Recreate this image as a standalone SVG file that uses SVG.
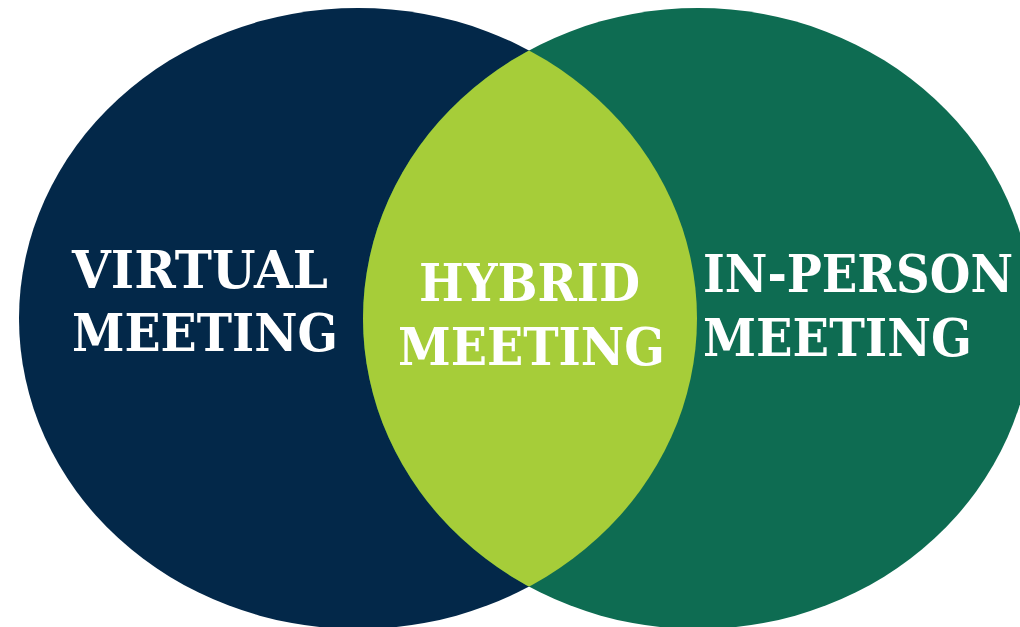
<svg xmlns="http://www.w3.org/2000/svg" width="1020" height="627" viewBox="0 0 1020 627">
<style>
.lbl{font-family:"DejaVu Serif","Liberation Serif",serif;font-weight:bold;font-size:52px;fill:#ffffff}
</style>
<defs>
<clipPath id="clipL"><ellipse cx="358" cy="318.5" rx="339" ry="310.5"/></clipPath>
</defs>
<rect width="1020" height="627" fill="#ffffff"/>
<g id="virtual">
<ellipse cx="358" cy="318.5" rx="339" ry="310.5" fill="#032849"/>
</g>
<g id="in-person">
<ellipse cx="698" cy="318.5" rx="335" ry="310.5" fill="#0e6c52"/>
</g>
<g id="hybrid">
<ellipse cx="698" cy="318.5" rx="335" ry="310.5" fill="#a6cd39" clip-path="url(#clipL)"/>
</g>
<g id="labels">
<text class="lbl" x="72" y="288" textLength="256" lengthAdjust="spacingAndGlyphs">VIRTUAL</text>
<text class="lbl" x="72" y="351" textLength="266" lengthAdjust="spacingAndGlyphs">MEETING</text>
<text class="lbl" x="419" y="301" textLength="221" lengthAdjust="spacingAndGlyphs">HYBRID</text>
<text class="lbl" x="398" y="365" textLength="267" lengthAdjust="spacingAndGlyphs">MEETING</text>
<text class="lbl" x="703" y="292" textLength="310" lengthAdjust="spacingAndGlyphs">IN-PERSON</text>
<text class="lbl" x="703" y="356" textLength="269" lengthAdjust="spacingAndGlyphs">MEETING</text>
</g>
</svg>
